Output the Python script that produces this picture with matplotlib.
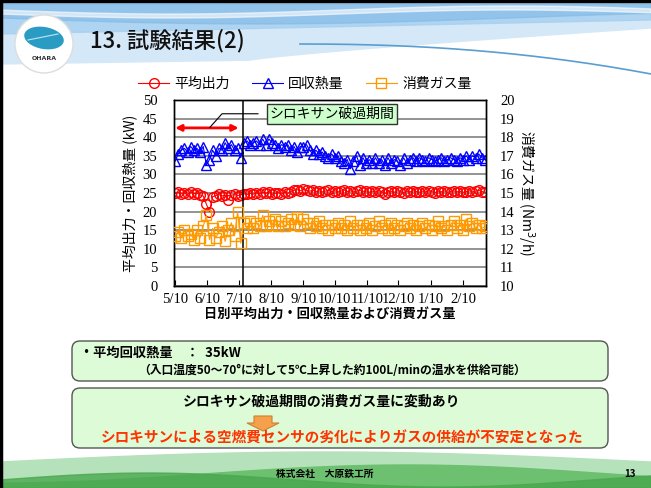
import numpy as np
import pandas as pd
import matplotlib
matplotlib.use("Agg")
import matplotlib.pyplot as plt
from matplotlib.patches import FancyBboxPatch, Circle, Ellipse, Polygon

plt.rcParams['font.family'] = ['Noto Sans CJK JP', 'DejaVu Sans']

# ---------------- data ----------------
dates = pd.date_range("2008-05-10", periods=100, freq="3D")

avg_output = [25, 25.2, 24.8, 25, 24.6, 25.2, 24.8, 25, 24.5, 24.2,
              22, 20, 24, 24.3, 24.6, 24.2, 24.5, 23.2, 24.4, 24.6,
              24.3, 24.5, 24.8, 24.6, 24.9, 24.7, 25, 24.8, 25.2, 24.9,
              25.4, 24.6, 24.9, 25.1, 24.8, 25.2, 24.9, 25.4, 25.7, 25.9,
              25.6, 26, 25.7, 25.5, 25.7, 25.4, 25.6, 25.3, 25.5, 25.7,
              25.4, 25.6, 25.3, 25.5, 25.8, 25.4, 25.6, 25.3, 25.5, 25.7,
              25.4, 25.6, 25.2, 25.5, 25.3, 25.6, 25.4, 24.8, 25.3, 25.5,
              25.2, 25.6, 25.4, 25.1, 25.5, 25.3, 25.6, 25.4, 25.2, 25.5,
              25.3, 25.6, 25.4, 25.1, 25.5, 25.3, 25.6, 25.2, 25.4, 25.6,
              25.3, 25.5, 25.2, 25.4, 25.6, 25.3, 25.5, 25.7, 25.4, 25.2]

heat_recovery = [33.5, 35.5, 36.5, 37, 36, 37.5, 36.5, 37, 36, 37.5,
                 32.5, 34, 36.5, 35, 37, 36.5, 38.5, 37, 38, 36.5,
                 37, 34.5, 38.5, 39, 38, 38.5, 39, 38, 39.5, 38,
                 39.5, 38.5, 38, 37, 38, 37.5, 38, 36.5, 37.5, 36,
                 37.5, 37.5, 38, 36.5, 35.5, 36.5, 35.5, 36, 35, 34.5,
                 35.5, 34.5, 35, 33.5, 33, 34, 31.5, 33.5, 35, 32.5,
                 34.5, 33, 34, 33, 34.5, 33, 34, 32.5, 34.5, 33,
                 34, 33.5, 32.5, 34.5, 33, 34, 34.5, 33.5, 34.5, 34,
                 33.5, 34.5, 34, 33.5, 34, 34.5, 33.5, 34, 34.5, 34,
                 33.5, 34.5, 34, 35, 34, 35, 34.5, 35.5, 34.5, 34]

gas_consumption = [12.7, 12.9, 12.6, 13.0, 12.7, 12.8, 12.5, 13.0, 12.6, 13.2,
                   13.8, 12.5, 13.1, 12.6, 12.9, 13.2, 12.4, 13.0, 13.4, 12.7,
                   14.0, 12.3, 13.4, 13.1, 13.5, 13.1, 13.4, 13.2, 13.8, 13.2,
                   13.5, 13.3, 13.6, 13.2, 13.5, 13.2, 13.4, 13.6, 13.3, 13.7,
                   13.2, 13.6, 13.4, 13.1, 13.4, 13.2, 13.5, 13.1, 13.3, 13.0,
                   13.3, 13.1, 13.4, 13.1, 13.3, 13.0, 13.5, 13.1, 13.3, 13.0,
                   13.3, 13.1, 13.4, 13.0, 13.2, 13.5, 13.1, 13.3, 13.0, 13.4,
                   13.1, 13.3, 13.0, 13.2, 13.4, 13.1, 13.3, 13.0, 13.2, 13.4,
                   13.1, 13.3, 13.0, 13.2, 13.5, 13.1, 13.2, 13.0, 13.3, 13.5,
                   13.1, 13.3, 13.0, 13.6, 13.2, 13.4, 13.1, 13.3, 13.1, 13.2]

tick_dates = pd.to_datetime(["2008-05-10", "2008-06-10", "2008-07-10", "2008-08-10",
                             "2008-09-10", "2008-10-10", "2008-11-10", "2008-12-10",
                             "2009-01-10", "2009-02-10"])
tick_labels = ["5/10", "6/10", "7/10", "8/10", "9/10", "10/10", "11/10", "12/10", "1/10", "2/10"]
x_end = pd.Timestamp("2009-03-04")
breakthrough_start = pd.Timestamp("2008-05-10")
breakthrough_end = pd.Timestamp("2008-07-10")
divider_date = pd.Timestamp("2008-07-14")

series_names = ["平均出力", "回収熱量", "消費ガス量"]

# ---------------- figure ----------------
W, H = 651, 488
fig = plt.figure(figsize=(W / 100, H / 100), dpi=100)

bg = fig.add_axes([0, 0, 1, 1])
bg.set_xlim(0, W)
bg.set_ylim(H, 0)
bg.axis("off")

xs = np.linspace(0, W, 400)
t = xs / W
# top blue waves
lower = 64 - 10 * t - 26 * np.clip((xs - 250) / 401, 0, 1) ** 0.8
bg.fill_between(xs, 4, lower, color="#d4e8f8", zorder=0)
bg.fill_between(xs, 4, 34 - 14 * t, color="#a6cff0", alpha=0.8, zorder=0)
bg.fill_between(xs, 4, 18 + 6 * np.sin(t * 4.0), color="#7fb9e6", alpha=0.6, zorder=0)
bg.fill_between(xs, 10 + 4 * np.sin(t * 6), 14 + 4 * np.sin(t * 6), color="white",
                alpha=0.6, zorder=0)
xr = np.linspace(300, W, 150)
bg.plot(xr, 44 + 30 * ((xr - 300) / (W - 300)) ** 2.2, color="#5a9ed0", lw=1.2, zorder=0)

# bottom green waves
bg.fill_between(xs, 462 - 10 * np.sin(t * np.pi), H, color="#b5e2bb", zorder=0)
bg.fill_between(xs, 474 + 9 * np.cos(t * np.pi * 1.6), H, color="#6cc070", zorder=0)
bg.fill_between(xs, 480 - 7 * np.sin(t * np.pi * 2.2), H, color="#4aa84e", alpha=0.8, zorder=0)

# frame lines
bg.plot([1, 1], [0, H], color="black", lw=2.5)
bg.plot([0, W], [1, 1], color="black", lw=2.5)

# logo
bg.add_patch(Circle((44, 44), 29, facecolor="white", edgecolor="#dddddd", lw=1, zorder=2))
bg.add_patch(Ellipse((44, 38), 40, 22, angle=10, facecolor="#2a9cc4", edgecolor="none", zorder=3))
bg.plot([28, 58], [40, 34], color="#bfe6f4", lw=0.8, zorder=4)
bg.text(44, 58, "OHARA", fontsize=4.5, ha="center", va="center", color="#333333",
        fontweight="bold", family="DejaVu Sans", zorder=4)

# title
bg.text(90, 41, "13. 試験結果(2)", fontsize=16, ha="left", va="center", color="#111111",
        fontweight="medium")

# text boxes
box_fc = "#dcfbd6"
bg.add_patch(FancyBboxPatch((72, 341), 536, 40, boxstyle="round,pad=0,rounding_size=8",
                            facecolor=box_fc, edgecolor="#555555", lw=1, zorder=2))
bg.add_patch(FancyBboxPatch((72, 388), 536, 60, boxstyle="round,pad=0,rounding_size=8",
                            facecolor=box_fc, edgecolor="#555555", lw=1, zorder=2))
bg.text(80, 353, "・平均回収熱量　：  35kW", fontsize=9.5, fontweight="bold", ha="left",
        va="center", zorder=3)
bg.text(138, 370, "（入口温度50〜70°に対して5℃上昇した約100L/minの温水を供給可能）",
        fontsize=8.5, fontweight="bold", ha="left", va="center", zorder=3)
bg.text(322, 402, "シロキサン破過期間の消費ガス量に変動あり", fontsize=10, fontweight="bold",
        ha="center", va="center", zorder=3)
bg.add_patch(Polygon([[254, 416], [272, 416], [272, 423], [279, 423], [263, 431],
                      [247, 423], [254, 423]], closed=True, facecolor="#f5a04a",
                     edgecolor="#d08030", lw=0.8, zorder=3))
bg.text(342, 438, "シロキサンによる空燃費センサの劣化によりガスの供給が不安定となった",
        fontsize=10.5, fontweight="bold", ha="center", va="center", color="#ff3300", zorder=3)

# footer
bg.text(325, 474, "株式会社　大原鉄工所", fontsize=7, fontweight="bold", ha="center",
        va="center", zorder=3)
bg.text(630, 474, "13", fontsize=7, fontweight="bold", ha="center", va="center", zorder=3)

# ---------------- chart ----------------
ax = fig.add_axes([174 / W, 1 - 286 / H, 312 / W, 186 / H])
ax.set_facecolor("white")
ax2 = ax.twinx()

red, blue, orange = "#ff0000", "#0000ff", "#ff9900"
l1, = ax.plot(dates, avg_output, color=red, lw=0.8, marker="o", ms=7,
              mfc="none", mec=red, mew=1.0, zorder=3)
l2, = ax.plot(dates, heat_recovery, color=blue, lw=0.8, marker="^", ms=7,
              mfc="none", mec=blue, mew=1.0, zorder=3)
l3, = ax2.plot(dates, gas_consumption, color=orange, lw=0.8, marker="s", ms=7,
               mfc="none", mec=orange, mew=1.0, zorder=3)

ax.set_xlim(dates[0] - pd.Timedelta(days=1), x_end)
ax.set_ylim(0, 50)
ax.set_yticks(range(0, 51, 5))
ax2.set_ylim(10, 20)
ax2.set_yticks(range(10, 21, 1))
ax.set_xticks(tick_dates)
ax.set_xticklabels(tick_labels)
ax.yaxis.grid(True, color="#808080", lw=1.2)
ax.set_axisbelow(True)

serif = "Liberation Serif"
for lab in ax.get_xticklabels() + ax.get_yticklabels() + ax2.get_yticklabels():
    lab.set_family(serif)
    lab.set_fontsize(10.5)
ax.tick_params(axis="x", direction="in", length=4, pad=5)
ax.tick_params(axis="y", direction="in", length=0, pad=12)
ax2.tick_params(axis="y", direction="in", length=0, pad=10)
for a in (ax, ax2):
    for s in a.spines.values():
        s.set_color("black")
        s.set_linewidth(1)

ax.set_ylabel("平均出力・回収熱量 (kW)", fontsize=10, labelpad=4)
ax2.set_ylabel("消費ガス量 (Nm$^3$/h)", fontsize=10, rotation=270, va="bottom", labelpad=0)
ax.set_xlabel("日別平均出力・回収熱量および消費ガス量", fontsize=9.5, fontweight="bold", labelpad=1)

# breakthrough annotations
ax.axvline(divider_date, color="black", lw=1.1, zorder=4)
ax.annotate("", xy=(breakthrough_end, 42.5), xytext=(breakthrough_start, 42.5),
            arrowprops=dict(arrowstyle="<|-|>", color="red", lw=2, mutation_scale=9,
                            shrinkA=0, shrinkB=0), zorder=5)
ax.plot([0.269, 0.154, 0.115], [0.926, 0.926, 0.853], transform=ax.transAxes,
        color="black", lw=0.8, zorder=5)
ax.text(0.506, 0.926, "シロキサン破過期間", transform=ax.transAxes, fontsize=10,
        ha="center", va="center", zorder=6,
        bbox=dict(boxstyle="square,pad=0.2", facecolor="#ccffcc", edgecolor="#333333", lw=1))

# legend
fig.legend([l1, l2, l3], series_names, loc="center", bbox_to_anchor=(305 / W, 1 - 84 / H),
           ncol=3, frameon=False, fontsize=10, handlelength=2.2, columnspacing=1.6,
           handletextpad=0.4)

fig.savefig("out.png", dpi=100)
